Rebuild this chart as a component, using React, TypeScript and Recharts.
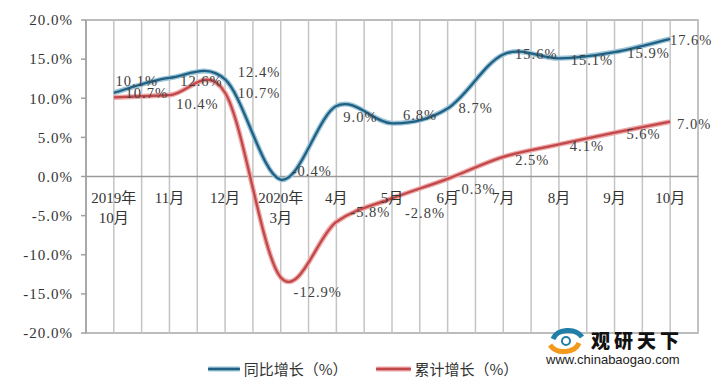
import React from 'react';
import {
  LineChart,
  Line,
  XAxis,
  YAxis,
  ReferenceLine,
  ReferenceArea,
  ReferenceDot,
  LabelList,
  Legend,
} from 'recharts';

const months = ['2019年\n10月', '11月', '12月', '2020年\n3月', '4月', '5月', '6月', '7月', '8月', '9月', '10月'];
const yoyGrowth = [10.7, 12.6, 12.4, -0.4, 9.0, 6.8, 8.7, 15.6, 15.1, 15.9, 17.6];
const cumGrowth = [10.1, 10.4, 10.7, -12.9, -5.8, -2.8, -0.3, 2.5, 4.1, 5.6, 7.0];
const yoyLabels = ['10.1%', '12.6%', '12.4%', '-0.4%', '9.0%', '6.8%', '8.7%', '15.6%', '15.1%', '15.9%', '17.6%'];
const cumLabels = ['10.7%', '10.4%', '10.7%', '-12.9%', '-5.8%', '-2.8%', '-0.3%', '2.5%', '4.1%', '5.6%', '7.0%'];
const seriesNames = ['同比增长（%）', '累计增长（%）'];
const yTicks = [-20, -15, -10, -5, 0, 5, 10, 15, 20];

// where Excel left each data label, relative to its point
const yoyLabelOffsets = [[23, -12], [32, 3], [34, -7], [31, -9], [24, 11], [28, -8], [28, 0], [33, 0], [33, 2], [34, 1], [21, 1]];
const cumLabelOffsets = [[33, -4], [28, 9], [34, 0], [37, 15], [34, -10], [33, 15], [28, 10], [29, 3], [28, 2], [29, 1], [24, 2]];

const rows = months.map((month, i) => ({ idx: i, month, yoy: yoyGrowth[i], cum: cumGrowth[i] }));

// grid line every half category, like the Excel original
const gridTicks = Array.from({ length: months.length * 2 + 1 }, (_, k) => -0.5 + k * 0.5);

const FONT = "'Liberation Serif', 'Noto Sans CJK SC', serif";
const BLUE = '#1f6083';
const BLUE_HALO = '#9cc3d6';
const RED = '#c0474a';
const RED_HALO = '#eeaaa8';

// Excel-style smoothed line (Catmull-Rom through every point)
function excelSmooth(context: any) {
  let pts: number[][] = [];
  return {
    areaStart() {},
    areaEnd() {},
    lineStart() {
      pts = [];
    },
    point(x: number, y: number) {
      pts.push([+x, +y]);
    },
    lineEnd() {
      const n = pts.length;
      if (!n) return;
      context.moveTo(pts[0][0], pts[0][1]);
      for (let i = 0; i < n - 1; i++) {
        const p0 = pts[Math.max(i - 1, 0)];
        const p1 = pts[i];
        const p2 = pts[i + 1];
        const p3 = pts[Math.min(i + 2, n - 1)];
        context.bezierCurveTo(
          p1[0] + (p2[0] - p0[0]) / 6,
          p1[1] + (p2[1] - p0[1]) / 6,
          p2[0] - (p3[0] - p1[0]) / 6,
          p2[1] - (p3[1] - p1[1]) / 6,
          p2[0],
          p2[1]
        );
      }
    },
  };
}

const makeLabel = (texts: string[], offsets: number[][]) => (props: any) => {
  const { index } = props;
  const x = props.viewBox?.x ?? props.x;
  const y = props.viewBox?.y ?? props.y;
  const [dx, dy] = offsets[index];
  return (
    <text
      x={x + dx}
      y={y + dy + 5}
      textAnchor="middle"
      fontFamily={FONT}
      fontSize={14.5}
      letterSpacing={1}
      fill="#404040"
    >
      {texts[index]}
    </text>
  );
};

const monthLabel = (text: string) => (props: any) => {
  const { x, y } = props.viewBox;
  const parts = text.split('\n');
  return (
    <text x={x} y={y + 26} textAnchor="middle" fontFamily={FONT} fontSize={15} fill="#333">
      {parts.map((p, k) => (
        <tspan key={k} x={x} dy={k === 0 ? 0 : 20}>
          {p}
        </tspan>
      ))}
    </text>
  );
};

const LegendContent = () => {
  const item = (name: string, core: string, halo: string, w: number, gap: number) => (
    <div style={{ display: 'flex', alignItems: 'center', marginRight: gap }}>
      <svg width={w} height={8} style={{ marginRight: 4 }}>
        <line x1={1} y1={4} x2={w - 1} y2={4} stroke={halo} strokeWidth={5} strokeLinecap="round" />
        <line x1={1} y1={4} x2={w - 1} y2={4} stroke={core} strokeWidth={2.5} strokeLinecap="round" />
      </svg>
      <span style={{ fontFamily: "'Noto Sans CJK SC', sans-serif", fontSize: 15, color: '#333' }}>{name}</span>
    </div>
  );
  return (
    <div style={{ display: 'flex', justifyContent: 'center', paddingLeft: 8 }}>
      {item(seriesNames[0], BLUE, BLUE_HALO, 32, 28)}
      {item(seriesNames[1], RED, RED_HALO, 35, 0)}
    </div>
  );
};

const Watermark = () => (
  <div style={{ position: 'absolute', left: 545, top: 325, width: 145, height: 45 }}>
    <svg width={38} height={28} style={{ position: 'absolute', left: 2, top: 2 }}>
      <path d="M6 12 C 10 2, 28 0, 35 10" fill="none" stroke="#1f7fa8" strokeWidth={5} />
      <path d="M32 16 C 28 26, 10 28, 3 18" fill="none" stroke="#f39a1e" strokeWidth={5} />
      <circle cx={19} cy={14} r={4} fill="none" stroke="#1f7fa8" strokeWidth={2} />
    </svg>
    <div
      style={{
        position: 'absolute',
        left: 46,
        top: 4,
        fontFamily: "'Noto Sans CJK SC', sans-serif",
        fontWeight: 900,
        fontSize: 19,
        letterSpacing: 4,
        lineHeight: '22px',
        color: '#111',
      }}
    >
      观研天下
    </div>
    <div
      style={{
        position: 'absolute',
        left: 1,
        top: 27,
        fontFamily: "'Liberation Sans', sans-serif",
        fontSize: 13,
        lineHeight: '16px',
        color: '#222',
      }}
    >
      www.chinabaogao.com
    </div>
  </div>
);

export default function App() {
  return (
    <div style={{ position: 'absolute', left: 0, top: 0, width: 718, height: 387, background: '#fff' }}>
      <LineChart width={718} height={387} data={rows} margin={{ top: 20, right: 20, bottom: 54, left: 0 }}>
        <XAxis
          dataKey="idx"
          type="number"
          domain={[-0.5, 10.5]}
          ticks={gridTicks}
          axisLine={false}
          tickLine={false}
          tick={false}
          height={0}
        />
        <YAxis
          type="number"
          domain={[-20, 20]}
          ticks={yTicks}
          interval={0}
          width={86}
          tickFormatter={(v: number) => `${v.toFixed(1)}%`}
          axisLine={{ stroke: '#a0a0a0', strokeWidth: 1.5 }}
          tickLine={{ stroke: '#a0a0a0', strokeWidth: 1.5 }}
          tickSize={5}
          tickMargin={8}
          tick={{ fontFamily: FONT, fontSize: 15, fill: '#333', letterSpacing: 1 }}
        />
        {gridTicks.map((t) => (
          <ReferenceLine key={`g${t}`} x={t} stroke="#c4c4c4" strokeWidth={1.5} />
        ))}
        <ReferenceArea x1={-0.5} x2={10.5} y1={-20} y2={20} fill="none" stroke="#a6a6a6" strokeWidth={1.5} />
        <ReferenceLine y={0} stroke="#9a9a9a" strokeWidth={1.5} />
        {months.map((m, i) => (
          <ReferenceDot key={m + i} x={i} y={0} r={0} fill="none" stroke="none" label={monthLabel(m)} />
        ))}
        <Line
          dataKey="cum"
          type={excelSmooth as any}
          stroke={RED_HALO}
          strokeWidth={5}
          dot={false}
          activeDot={false}
          legendType="none"
          isAnimationActive={false}
        />
        <Line
          dataKey="cum"
          name={seriesNames[1]}
          type={excelSmooth as any}
          stroke={RED}
          strokeWidth={2.3}
          dot={false}
          activeDot={false}
          isAnimationActive={false}
        >
          <LabelList dataKey="cum" content={makeLabel(cumLabels, cumLabelOffsets)} />
        </Line>
        <Line
          dataKey="yoy"
          type={excelSmooth as any}
          stroke={BLUE_HALO}
          strokeWidth={5}
          dot={false}
          activeDot={false}
          legendType="none"
          isAnimationActive={false}
        />
        <Line
          dataKey="yoy"
          name={seriesNames[0]}
          type={excelSmooth as any}
          stroke={BLUE}
          strokeWidth={2.3}
          dot={false}
          activeDot={false}
          isAnimationActive={false}
        >
          <LabelList dataKey="yoy" content={makeLabel(yoyLabels, yoyLabelOffsets)} />
        </Line>
        <Legend
          layout="horizontal"
          verticalAlign="middle"
          align="center"
          content={<LegendContent />}
          wrapperStyle={{ top: 358, left: 0, width: 718, height: 22 }}
        />
      </LineChart>
      <Watermark />
    </div>
  );
}
